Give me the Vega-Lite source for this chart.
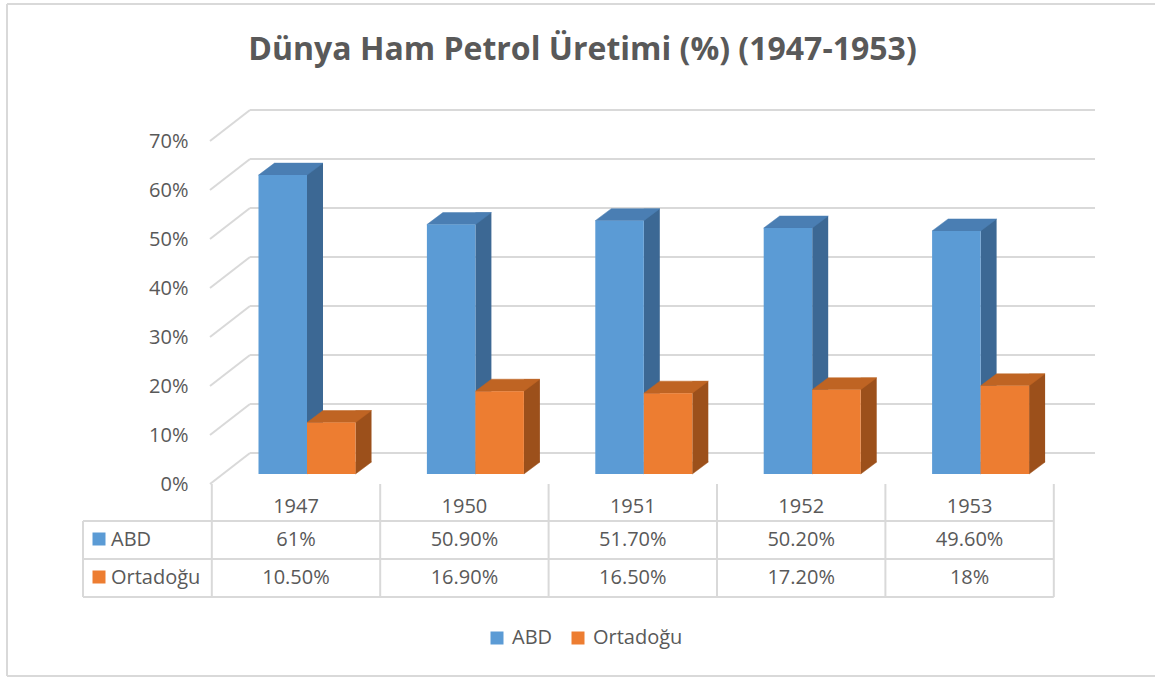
{
  "$schema": "https://vega.github.io/schema/vega-lite/v6.json",
  "width": 1155,
  "height": 678,
  "padding": 0,
  "autosize": {"type": "none"},
  "background": "#ffffff",
  "title": {"text": "Dünya Ham Petrol Üretimi (%) (1947-1953)", "font": "Open Sans", "fontSize": 32, "fontWeight": "bold", "color": "#595959", "anchor": "middle", "offset": -92, "baseline": "alphabetic", "dx": 5},
  "config": {
    "view": {"stroke": null},
    "axisX": {"disable": true},
    "legend": {"orient": "none", "legendX": 487, "legendY": 628, "direction": "horizontal", "symbolType": "square", "symbolSize": 169, "symbolStrokeWidth": 0, "labelFont": "Open Sans", "labelFontSize": 20, "labelColor": "#595959", "labelOffset": 5, "columnPadding": 15, "padding": 0}
  },
  "data": {"values": [
    {"year": "1947", "series": "ABD", "value": 61, "label": "61%"},
    {"year": "1950", "series": "ABD", "value": 50.9, "label": "50.90%"},
    {"year": "1951", "series": "ABD", "value": 51.7, "label": "51.70%"},
    {"year": "1952", "series": "ABD", "value": 50.2, "label": "50.20%"},
    {"year": "1953", "series": "ABD", "value": 49.6, "label": "49.60%"},
    {"year": "1947", "series": "Ortadoğu", "value": 10.5, "label": "10.50%"},
    {"year": "1950", "series": "Ortadoğu", "value": 16.9, "label": "16.90%"},
    {"year": "1951", "series": "Ortadoğu", "value": 16.5, "label": "16.50%"},
    {"year": "1952", "series": "Ortadoğu", "value": 17.2, "label": "17.20%"},
    {"year": "1953", "series": "Ortadoğu", "value": 18, "label": "18%"}
  ]},
  "layer": [
    {
      "data": {"values": [{"t": 0}, {"t": 10}, {"t": 20}, {"t": 30}, {"t": 40}, {"t": 50}, {"t": 60}, {"t": 70}]},
      "mark": {"type": "rule", "color": "#D9D9D9", "strokeWidth": 2, "xOffset": -46, "x2Offset": 125.4, "yOffset": -31},
      "encoding": {
        "x": {"datum": "1947", "type": "ordinal", "scale": {"type": "point", "domain": ["1947", "1950", "1951", "1952", "1953"], "padding": 0, "range": [296, 969.6]}, "axis": null},
        "x2": {"datum": "1953"},
        "y": {"field": "t", "type": "quantitative", "title": null, "scale": {"domain": [-39.592, 98.776], "nice": false, "zero": false},
          "axis": {"values": [0, 10, 20, 30, 40, 50, 60, 70], "labelExpr": "datum.value + '%'", "offset": -198, "domain": false, "ticks": false, "tickSize": 0, "grid": false, "labelPadding": 10, "labelFont": "Open Sans", "labelFontSize": 20, "labelColor": "#595959", "title": null}}
      }
    },
    {
      "data": {"values": [{"t": 0}, {"t": 10}, {"t": 20}, {"t": 30}, {"t": 40}, {"t": 50}, {"t": 60}, {"t": 70}]},
      "mark": {"type": "rule", "color": "#D9D9D9", "strokeWidth": 2, "xOffset": -86, "x2Offset": -46, "y2Offset": -31},
      "encoding": {
        "x": {"datum": "1947", "type": "ordinal"},
        "x2": {"datum": "1947"},
        "y": {"field": "t", "type": "quantitative", "title": null},
        "y2": {"field": "t"}
      }
    },
    {
      "data": {"values": [{}]},
      "mark": {"type": "rule", "color": "#D9D9D9", "strokeWidth": 2, "xOffset": -289, "yOffset": -480, "y2Offset": 192},
      "encoding": {"x": {"datum": "1947", "type": "ordinal"}, "y": {"datum": 0, "type": "quantitative", "title": null}, "y2": {"datum": 0}}
    },
    {
      "data": {"values": [{}]},
      "mark": {"type": "rule", "color": "#D9D9D9", "strokeWidth": 2, "xOffset": -289, "x2Offset": 200, "yOffset": -480},
      "encoding": {"x": {"datum": "1947", "type": "ordinal"}, "x2": {"datum": "1953"}, "y": {"datum": 0, "type": "quantitative", "title": null}}
    },
    {
      "data": {"values": [{}]},
      "mark": {"type": "rule", "color": "#D9D9D9", "strokeWidth": 2, "xOffset": -289, "x2Offset": 200, "yOffset": 192},
      "encoding": {"x": {"datum": "1947", "type": "ordinal"}, "x2": {"datum": "1953"}, "y": {"datum": 0, "type": "quantitative", "title": null}}
    },
    {
      "data": {"values": [{}]},
      "mark": {"type": "rule", "color": "#D9D9D9", "strokeWidth": 2, "xOffset": -213, "x2Offset": 84.2, "yOffset": 37},
      "encoding": {"x": {"datum": "1947", "type": "ordinal"}, "x2": {"datum": "1953"}, "y": {"datum": 0, "type": "quantitative", "title": null}}
    },
    {
      "data": {"values": [{}]},
      "mark": {"type": "rule", "color": "#D9D9D9", "strokeWidth": 2, "xOffset": -213, "x2Offset": 84.2, "yOffset": 75},
      "encoding": {"x": {"datum": "1947", "type": "ordinal"}, "x2": {"datum": "1953"}, "y": {"datum": 0, "type": "quantitative", "title": null}}
    },
    {
      "data": {"values": [{}]},
      "mark": {"type": "rule", "color": "#D9D9D9", "strokeWidth": 2, "xOffset": -213, "x2Offset": 84.2, "yOffset": 113},
      "encoding": {"x": {"datum": "1947", "type": "ordinal"}, "x2": {"datum": "1953"}, "y": {"datum": 0, "type": "quantitative", "title": null}}
    },
    {
      "data": {"values": [{}]},
      "mark": {"type": "rule", "color": "#D9D9D9", "strokeWidth": 2, "xOffset": -213, "yOffset": 37, "y2Offset": 113},
      "encoding": {"x": {"datum": "1947", "type": "ordinal"}, "y": {"datum": 0, "type": "quantitative", "title": null}, "y2": {"datum": 0}}
    },
    {
      "data": {"values": [{}]},
      "mark": {"type": "rule", "color": "#D9D9D9", "strokeWidth": 2, "xOffset": 84.2, "y2Offset": 113},
      "encoding": {"x": {"datum": "1953", "type": "ordinal"}, "y": {"datum": 0, "type": "quantitative", "title": null}, "y2": {"datum": 0}}
    },
    {
      "transform": [{"filter": "datum.series === 'ABD'"}],
      "mark": {"type": "rule", "color": "#D9D9D9", "strokeWidth": 2, "xOffset": -84.2, "y2Offset": 113},
      "encoding": {"x": {"field": "year", "type": "ordinal"}, "y": {"datum": 0, "type": "quantitative", "title": null}, "y2": {"datum": 0}}
    },
    {
      "transform": [{"filter": "datum.series === 'ABD'"}],
      "mark": {"type": "rect", "color": "#3C6894", "xOffset": 11, "x2Offset": 27, "yOffset": -22, "y2Offset": -22},
      "encoding": {"x": {"field": "year", "type": "ordinal"}, "x2": {"field": "year"}, "y": {"field": "value", "type": "quantitative", "title": null}, "y2": {"datum": 0}}
    },
    {
      "transform": [{"filter": "datum.series === 'ABD'"}],
      "mark": {"type": "point", "shape": "M11,-22 L11,-10 L27,-22 Z", "size": 4, "filled": true, "opacity": 1, "color": "#3C6894", "stroke": "#3C6894", "strokeWidth": 0.5},
      "encoding": {"x": {"field": "year", "type": "ordinal"}, "y": {"datum": 0, "type": "quantitative", "title": null}}
    },
    {
      "transform": [{"filter": "datum.series === 'ABD'"}],
      "mark": {"type": "point", "shape": "M-37.5,-10 L11,-10 L27,-22 L-21.5,-22 Z", "size": 4, "filled": true, "opacity": 1, "color": "#4A7EB3", "stroke": "#4A7EB3", "strokeWidth": 0.5},
      "encoding": {"x": {"field": "year", "type": "ordinal"}, "y": {"field": "value", "type": "quantitative", "title": null}}
    },
    {
      "transform": [{"filter": "datum.series === 'ABD'"}],
      "mark": {"type": "rect", "xOffset": -37.5, "x2Offset": 11, "yOffset": -10, "y2Offset": -10},
      "encoding": {"x": {"field": "year", "type": "ordinal"}, "x2": {"field": "year"}, "y": {"field": "value", "type": "quantitative", "title": null}, "y2": {"datum": 0},
        "color": {"field": "series", "type": "nominal", "title": null, "scale": {"domain": ["ABD", "Ortadoğu"], "range": ["#5B9BD5", "#ED7D31"]}}}
    },
    {
      "transform": [{"filter": "datum.series === 'Ortadoğu'"}],
      "mark": {"type": "rect", "color": "#9C501B", "xOffset": 59.5, "x2Offset": 75.5, "yOffset": -22, "y2Offset": -22},
      "encoding": {"x": {"field": "year", "type": "ordinal"}, "x2": {"field": "year"}, "y": {"field": "value", "type": "quantitative", "title": null}, "y2": {"datum": 0}}
    },
    {
      "transform": [{"filter": "datum.series === 'Ortadoğu'"}],
      "mark": {"type": "point", "shape": "M59.5,-22 L59.5,-10 L75.5,-22 Z", "size": 4, "filled": true, "opacity": 1, "color": "#9C501B", "stroke": "#9C501B", "strokeWidth": 0.5},
      "encoding": {"x": {"field": "year", "type": "ordinal"}, "y": {"datum": 0, "type": "quantitative", "title": null}}
    },
    {
      "transform": [{"filter": "datum.series === 'Ortadoğu'"}],
      "mark": {"type": "point", "shape": "M11,-10 L59.5,-10 L75.5,-22 L27,-22 Z", "size": 4, "filled": true, "opacity": 1, "color": "#BF6423", "stroke": "#BF6423", "strokeWidth": 0.5},
      "encoding": {"x": {"field": "year", "type": "ordinal"}, "y": {"field": "value", "type": "quantitative", "title": null}}
    },
    {
      "transform": [{"filter": "datum.series === 'Ortadoğu'"}],
      "mark": {"type": "rect", "xOffset": 11, "x2Offset": 59.5, "yOffset": -10, "y2Offset": -10},
      "encoding": {"x": {"field": "year", "type": "ordinal"}, "x2": {"field": "year"}, "y": {"field": "value", "type": "quantitative", "title": null}, "y2": {"datum": 0},
        "color": {"field": "series", "type": "nominal", "title": null}}
    },
    {
      "transform": [{"filter": "datum.series === 'ABD'"}],
      "mark": {"type": "text", "font": "Open Sans", "fontSize": 20, "color": "#595959", "baseline": "middle", "yOffset": 23},
      "encoding": {"x": {"field": "year", "type": "ordinal"}, "y": {"datum": 0, "type": "quantitative", "title": null}, "text": {"field": "year"}}
    },
    {
      "transform": [{"filter": "datum.series === 'ABD'"}],
      "mark": {"type": "text", "font": "Open Sans", "fontSize": 20, "color": "#595959", "baseline": "middle", "yOffset": 56},
      "encoding": {"x": {"field": "year", "type": "ordinal"}, "y": {"datum": 0, "type": "quantitative", "title": null}, "text": {"field": "label"}}
    },
    {
      "transform": [{"filter": "datum.series === 'Ortadoğu'"}],
      "mark": {"type": "text", "font": "Open Sans", "fontSize": 20, "color": "#595959", "baseline": "middle", "yOffset": 94},
      "encoding": {"x": {"field": "year", "type": "ordinal"}, "y": {"datum": 0, "type": "quantitative", "title": null}, "text": {"field": "label"}}
    },
    {
      "transform": [{"filter": "datum.series === 'ABD' && datum.year === '1947'"}],
      "mark": {"type": "point", "shape": "square", "size": 169, "filled": true, "opacity": 1, "strokeWidth": 0, "xOffset": -197, "yOffset": 55},
      "encoding": {"x": {"field": "year", "type": "ordinal"}, "y": {"datum": 0, "type": "quantitative", "title": null}, "color": {"field": "series", "type": "nominal", "title": null}}
    },
    {
      "transform": [{"filter": "datum.series === 'Ortadoğu' && datum.year === '1947'"}],
      "mark": {"type": "point", "shape": "square", "size": 169, "filled": true, "opacity": 1, "strokeWidth": 0, "xOffset": -197, "yOffset": 93},
      "encoding": {"x": {"field": "year", "type": "ordinal"}, "y": {"datum": 0, "type": "quantitative", "title": null}, "color": {"field": "series", "type": "nominal", "title": null}}
    },
    {
      "transform": [{"filter": "datum.series === 'ABD' && datum.year === '1947'"}],
      "mark": {"type": "text", "font": "Open Sans", "fontSize": 20, "color": "#595959", "baseline": "middle", "align": "left", "xOffset": -185, "yOffset": 56},
      "encoding": {"x": {"field": "year", "type": "ordinal"}, "y": {"datum": 0, "type": "quantitative", "title": null}, "text": {"field": "series"}}
    },
    {
      "transform": [{"filter": "datum.series === 'Ortadoğu' && datum.year === '1947'"}],
      "mark": {"type": "text", "font": "Open Sans", "fontSize": 20, "color": "#595959", "baseline": "middle", "align": "left", "xOffset": -185, "yOffset": 94},
      "encoding": {"x": {"field": "year", "type": "ordinal"}, "y": {"datum": 0, "type": "quantitative", "title": null}, "text": {"field": "series"}}
    }
  ]
}
